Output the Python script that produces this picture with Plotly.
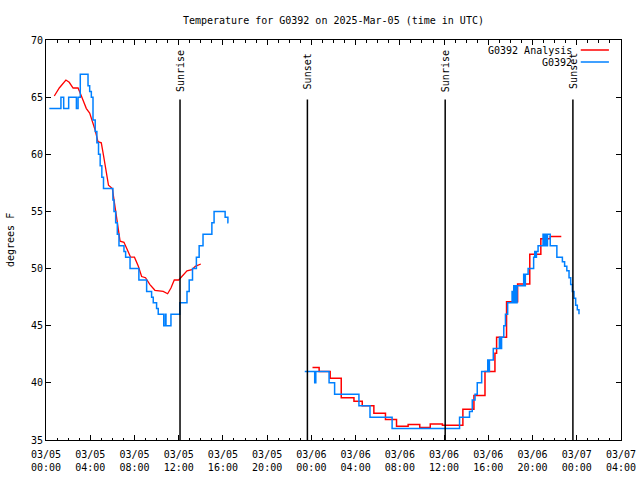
import plotly.graph_objects as go

# hours since 2025-03-05 00:00 UTC
obs_hours = [0.3, 1.35, 1.6, 2.05, 2.75, 2.9, 3.1, 3.8, 3.95, 4.1, 4.25, 4.45, 4.6, 4.75, 4.9, 5.05, 5.2,
             6.05, 6.15, 6.3, 6.45, 6.6, 7.05, 7.2, 7.6, 8.4, 9.1, 9.55, 9.7, 10.0, 10.15, 10.65, 10.8,
             10.85, 11.3, 12.1, 12.75, 12.95, 13.25, 13.6, 13.85, 14.2, 15.0, 15.2, 16.2, 16.45, 16.5,
             None,
             23.4, 24.3, 24.4, 25.6, 26.1, 28.3, 29.3, 31.3, 37.4, 38.3, 38.55, 38.8, 39.0, 39.4, 39.95,
             40.05, 40.1, 40.45, 41.0, 41.1, 41.2, 41.4, 41.55, 41.75, 42.15, 42.2, 42.3, 42.35, 42.45,
             42.5, 42.6, 43.2, 43.3, 43.35, 43.6, 44.1, 44.2, 44.3, 44.35, 44.5, 44.95, 45.05, 45.15,
             45.25, 45.35, 45.6, 46.2, 46.7, 46.9, 47.1, 47.3, 47.45, 47.6, 47.75, 47.9, 48.05, 48.2]
obs_temp = [64, 65, 64, 65, 64, 65, 67, 66, 65.5, 65, 63, 62, 61, 60, 59, 58, 57,
            56, 55, 54, 53, 52, 51.5, 51, 50, 49, 48, 47.5, 47, 46.5, 46, 45, 46,
            45, 46, 47, 48, 49, 50, 51, 52, 53, 54, 55, 54.5, 54, 54,
            None,
            41, 40, 41, 40, 39, 38, 37, 36, 37, 37.5, 38.5, 39, 40, 41, 42,
            41, 42, 43, 44, 43, 44, 45, 46, 47, 48, 47, 48.5, 47, 48.5,
            47, 48.5, 49.5, 48.5, 49.5, 50, 51, 51.5, 51, 51.5, 52, 53, 52, 53,
            52, 53, 52, 51, 50.6, 50.2, 49.8, 49.2, 48.6, 48, 47.4, 46.8, 46.4, 46.0]

ana1_hours = [0.75, 1.2, 1.8, 2.1, 2.45, 2.9, 3.2, 3.65, 3.95, 4.2, 4.45, 4.7, 5.0, 5.2, 5.5, 5.65,
              6.0, 6.15, 6.35, 6.55, 6.7, 7.05, 7.3, 7.65, 8.0, 8.35, 8.65, 9.0, 9.4, 9.85, 10.6,
              11.0, 11.3, 11.6, 12.0, 12.4, 12.75, 13.2, 13.5, 14.0]
ana1_temp = [65.1, 65.8, 66.5, 66.3, 65.8, 65.8, 65.1, 64.0, 63.6, 62.85, 62.1, 61.1, 61.0, 59.9, 58.3, 57.3,
             57.0, 56.0, 55.1, 53.4, 52.4, 52.3, 51.8, 51.0, 51.0, 50.2, 49.3, 49.2, 48.6, 48.1, 48.0,
             47.8, 48.3, 49.0, 49.0, 49.4, 49.8, 49.9, 50.2, 50.4]

ana2_hours = [24.1, 24.7, 25.7, 26.7, 27.85, 28.6, 29.65, 30.7, 31.7, 32.75, 33.8, 34.75, 35.85,
              37.7, 38.7, 39.7, 40.6, 40.75, 41.65, 42.65, 43.75, 44.75, 45.6, 46.6]
ana2_temp = [41.35, 41.0, 40.4, 38.7, 38.4, 38.0, 37.35, 36.8, 36.2, 36.35, 36.1, 36.4, 36.3,
             37.7, 38.9, 41.0, 42.6, 44.0, 47.1, 48.65, 51.25, 52.6, 52.8, 52.8]

event_hours = [12.12, 23.64, 36.1, 47.65]
event_labels = ["Sunrise", "Sunset", "Sunrise", "Sunset"]

tick_hours = list(range(0, 53, 4))
tick_labels = ["03/05<br>00:00", "03/05<br>04:00", "03/05<br>08:00", "03/05<br>12:00",
               "03/05<br>16:00", "03/05<br>20:00", "03/06<br>00:00", "03/06<br>04:00",
               "03/06<br>08:00", "03/06<br>12:00", "03/06<br>16:00", "03/06<br>20:00",
               "03/07<br>00:00", "03/07<br>04:00"]

series_names = ["G0392 Analysis", "G0392"]
RED = "#ff0000"
BLUE = "#0080ff"
FONT = "DejaVu Sans Mono"

fig = go.Figure()
fig.add_trace(go.Scatter(x=ana1_hours, y=ana1_temp, mode="lines", line=dict(color=RED, width=1.3),
                         showlegend=False))
fig.add_trace(go.Scatter(x=ana2_hours, y=ana2_temp, mode="lines", line=dict(color=RED, width=1.5, shape="hv"),
                         showlegend=False))
fig.add_trace(go.Scatter(x=obs_hours, y=obs_temp, mode="lines", line=dict(color=BLUE, width=1.5, shape="hv"),
                         connectgaps=False, showlegend=False))

for h, lab in zip(event_hours, event_labels):
    fig.add_shape(type="line", xref="x", yref="y", x0=h, x1=h, y0=35, y1=64.8,
                  line=dict(color="black", width=1.5))
    fig.add_annotation(x=h, xref="x", y=0.9225, yref="paper", text=lab, textangle=-90,
                       showarrow=False, xanchor="center", yanchor="middle",
                       font=dict(family=FONT, size=10, color="black"))

# legend (top right, text left of sample line)
for i, (name, col) in enumerate(zip(series_names, [RED, BLUE])):
    yy = 0.975 - i * 0.03
    fig.add_annotation(x=0.918, xref="paper", y=yy, yref="paper", text=name, showarrow=False,
                       xanchor="right", yanchor="middle", font=dict(family=FONT, size=10, color="black"))
    fig.add_shape(type="line", xref="paper", yref="paper", x0=0.930, x1=0.979, y0=yy, y1=yy,
                  line=dict(color=col, width=1.5))

fig.add_annotation(x=-0.0626, xref="paper", y=0.5, yref="paper", text="degrees F", textangle=-90,
                   showarrow=False, xanchor="center", yanchor="middle",
                   font=dict(family=FONT, size=10, color="black"))

fig.update_layout(
    width=640, height=480,
    margin=dict(l=46, r=19, t=40, b=40),
    paper_bgcolor="white", plot_bgcolor="white",
    font=dict(family=FONT, size=10, color="black"),
    title=dict(text="Temperature for G0392 on 2025-Mar-05 (time in UTC)", x=0.521, xanchor="center",
               y=0.958, yanchor="middle", font=dict(family=FONT, size=10, color="black")),
)
fig.update_xaxes(range=[0, 52], tickvals=tick_hours, ticktext=tick_labels, ticks="inside", ticklen=5,
                 tickcolor="black", showline=True, linecolor="black", linewidth=1, mirror="ticks",
                 showgrid=False, zeroline=False, automargin=False, ticklabelstandoff=5,
                 ticklabeloverflow="allow",
                 minor=dict(dtick=1, tick0=0, ticks="inside", ticklen=2.5, tickcolor="black", showgrid=False))
fig.update_yaxes(range=[35, 70], dtick=5, tick0=35, ticks="inside", ticklen=5, tickcolor="black",
                 showline=True, linecolor="black", linewidth=1, mirror="ticks", showgrid=False, zeroline=False,
                 automargin=False)

fig.write_html("out.html", config={"displayModeBar": False},
               post_script="document.body.style.margin='0';document.body.style.overflow='hidden';")
